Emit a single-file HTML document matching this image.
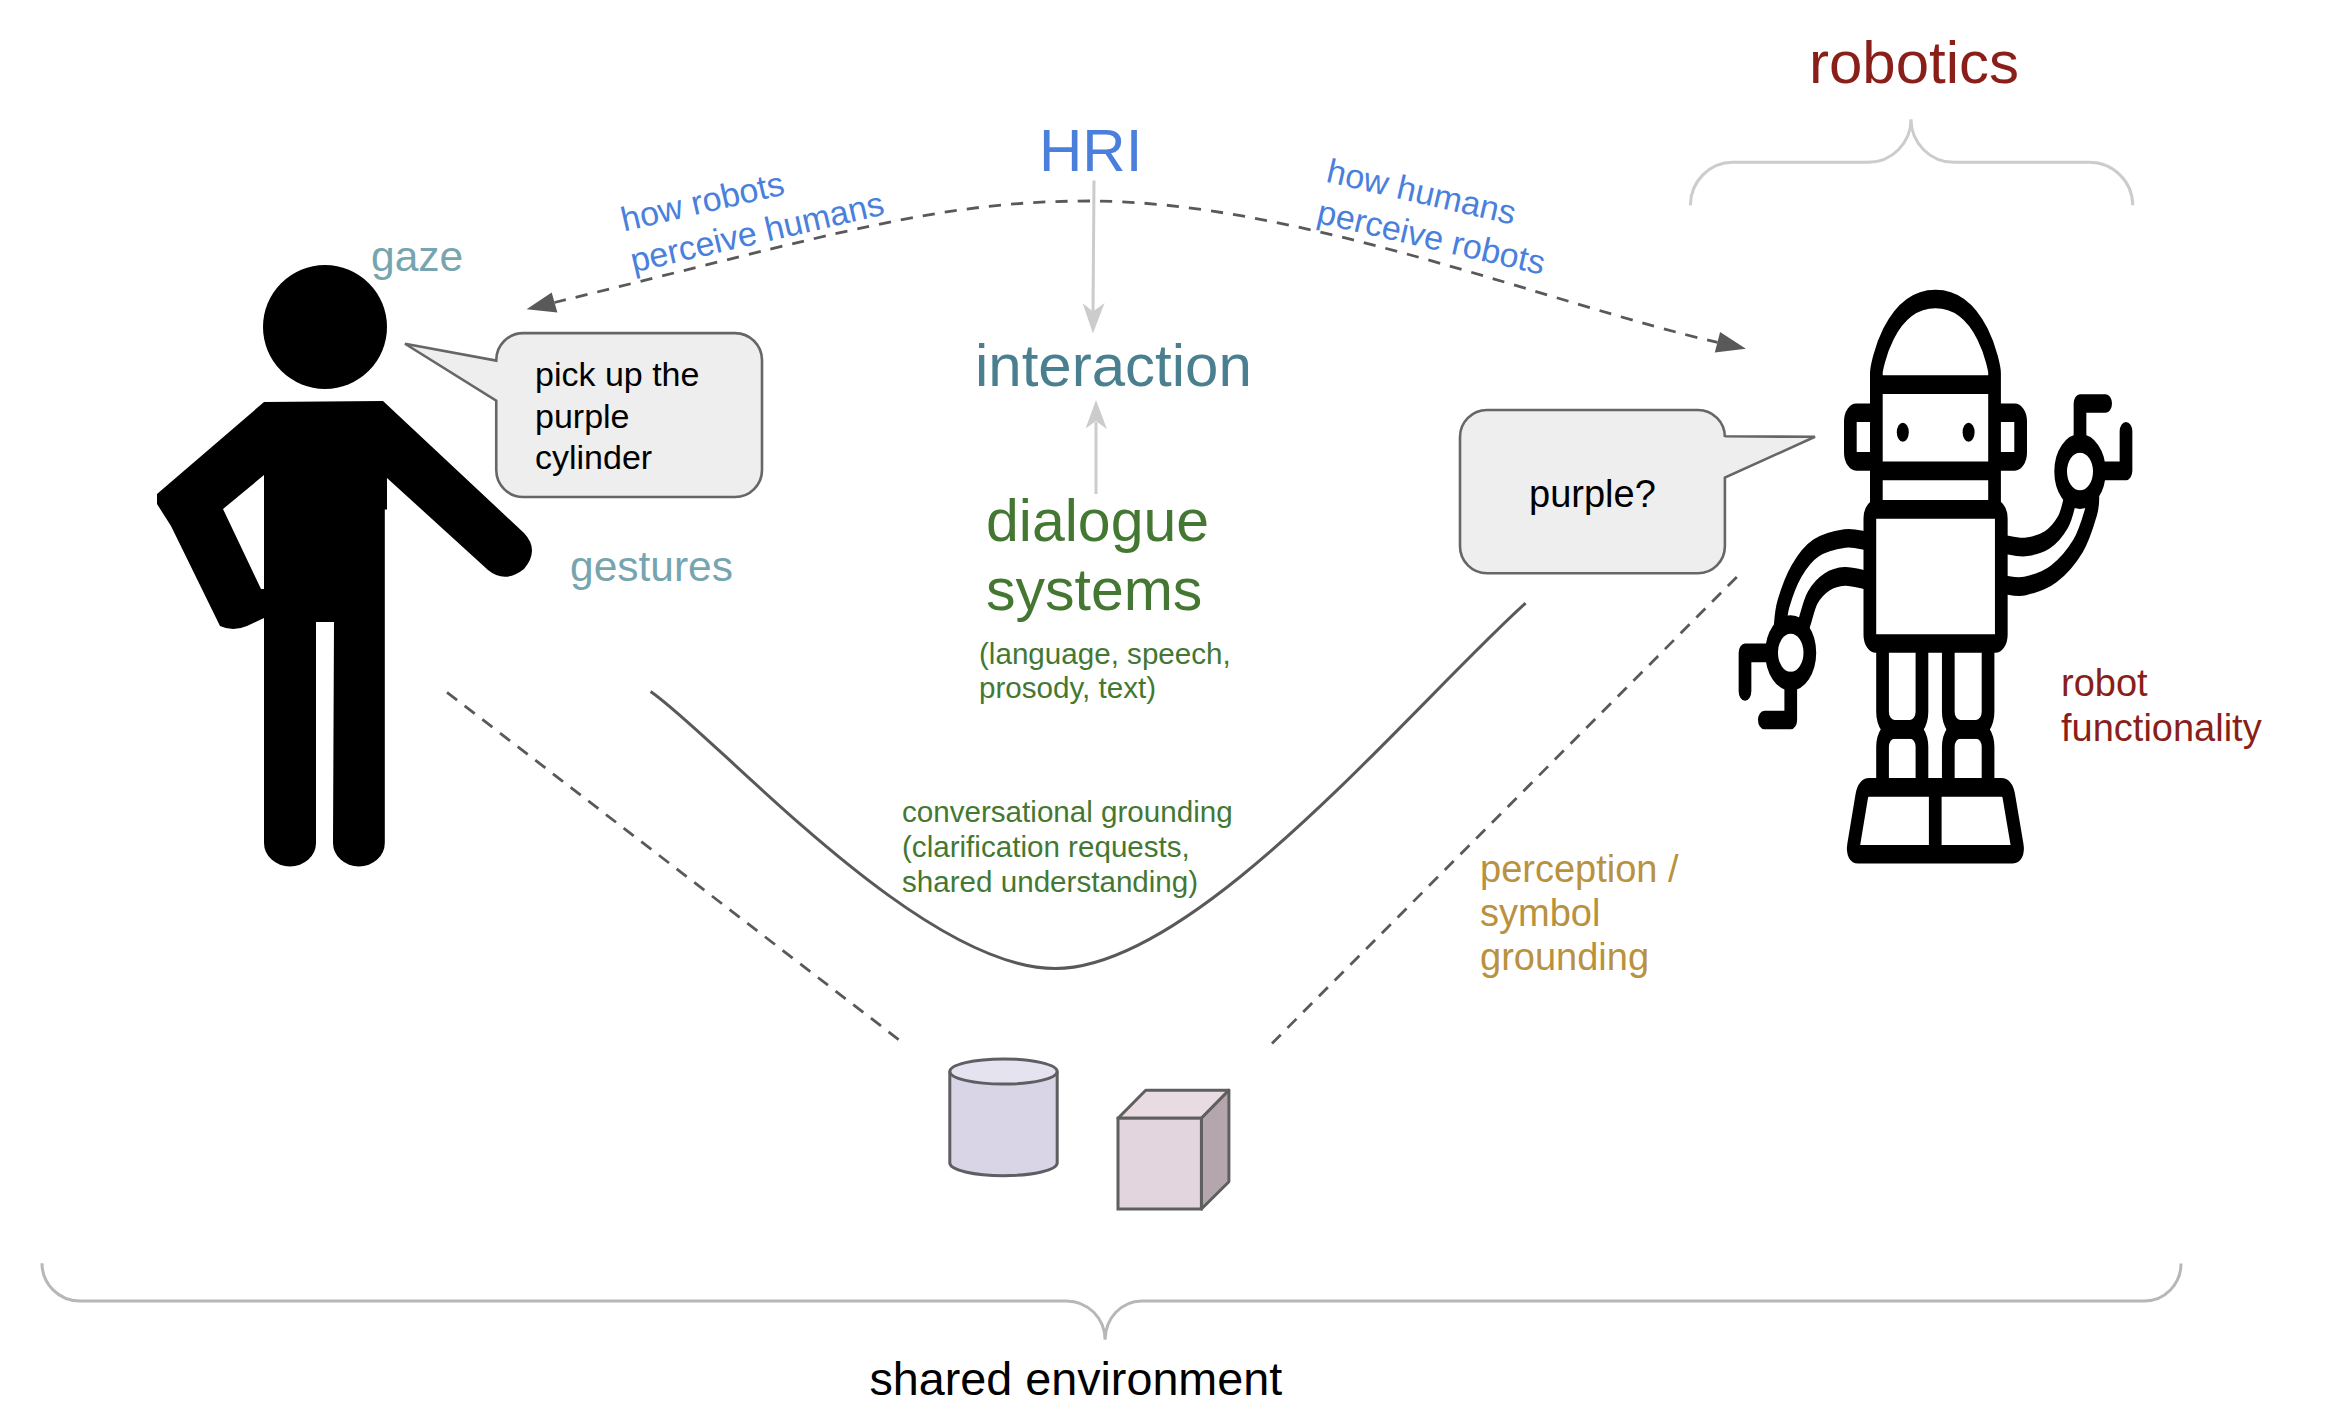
<!DOCTYPE html>
<html><head><meta charset="utf-8">
<style>
html,body{margin:0;padding:0;background:#fff;}
body{width:2352px;height:1418px;overflow:hidden;}
svg{display:block;}
text{font-family:"Liberation Sans",sans-serif;}
</style></head>
<body>
<svg width="2352" height="1418" viewBox="0 0 2352 1418" xmlns="http://www.w3.org/2000/svg">
<rect width="2352" height="1418" fill="#fff"/>
<path d="M1690.4,205.3 A42.5,43 0 0 1 1732.9,162.3 H1868 A43,43 0 0 0 1911,119.3 A43,43 0 0 0 1954,162.3 H2089 A43.7,43 0 0 1 2132.7,205.3" fill="none" stroke="#cccccc" stroke-width="3"/>
<path d="M42,1263.2 A37.6,37.7 0 0 0 79.6,1300.9 H1066.3 A38.8,38.9 0 0 1 1105.1,1339.8 A36.7,38.9 0 0 1 1141.8,1300.9 H2144.7 A36.3,37.4 0 0 0 2181,1263.5" fill="none" stroke="#b7b7b7" stroke-width="3"/>
<path d="M554.5,302.5 C837.7,233.4 938.3,201 1089.2,201 C1299,201 1556,306 1717.5,342.3" fill="none" stroke="#595959" stroke-width="2.8" stroke-dasharray="12.2 10.09" stroke-dashoffset="0.65"/>
<path d="M526.6,309.3 L551.7,292.4 L557.4,312.5 Z" fill="#595959"/>
<path d="M1745.9,348.7 L1720.1,332 L1714.8,352.5 Z" fill="#595959"/>
<path d="M1094,180.6 L1093,314" fill="none" stroke="#cccccc" stroke-width="3"/>
<path d="M1092.9,333.4 L1082.7,303.2 L1092.9,311.5 L1104.6,303 Z" fill="#cccccc"/>
<path d="M1096,494 L1096,422" fill="none" stroke="#cccccc" stroke-width="3"/>
<path d="M1096,400 L1085.6,428.5 L1096,421 L1107,429.2 Z" fill="#cccccc"/>
<path d="M650.6,691.4 C718.0,737.8 919.5,968.5 1055.3,968.5 C1196.6,968.5 1410.6,706.9 1525.6,603.1" fill="none" stroke="#595959" stroke-width="3"/>
<path d="M447,692.3 L898.7,1039.6" fill="none" stroke="#595959" stroke-width="2.8" stroke-dasharray="12.7 9.58"/>
<path d="M1736.8,577 L1272,1043.4" fill="none" stroke="#595959" stroke-width="2.8" stroke-dasharray="12.7 9.58"/>
<g fill="#000">
<circle cx="325" cy="327" r="62"/>
<path fill-rule="evenodd" d="M264,402 L383,401 L524,533 Q540,550 524,569 Q505,584 488,570 L387,478 L387,509.6 L384.8,509.6 L384.8,843 A25.9,23.5 0 0 1 333,843 L334,622 L316,622 L316,843 A26,23.5 0 0 1 264,843 L264,618 L247,626 Q233,632 220,626 L171,526 L157,504 L157,494 Z M264,475 L223,509 L261,589 L264,589 Z"/>
</g>
<path d="M523.25,333.1 H735 A27,27 0 0 1 762,360.1 V470 A27,27 0 0 1 735,497 H523.25 A27,27 0 0 1 496.25,470 V400.6 L405,343.75 L496.25,360.6 V360.1 A27,27 0 0 1 523.25,333.1 Z" fill="#eeeeee" stroke="#666666" stroke-width="2.6" stroke-linejoin="miter"/>
<path d="M1487,410 H1697.9 A27,27 0 0 1 1724.9,437 V436.3 L1815,436.8 L1724.9,477.6 V546.3 A27,27 0 0 1 1697.9,573.3 H1487 A27,27 0 0 1 1460,546.3 V437 A27,27 0 0 1 1487,410 Z" fill="#eeeeee" stroke="#666666" stroke-width="2.6" stroke-linejoin="miter"/>
<g transform="translate(0,289.0) scale(1,1.47)" fill="none" stroke="#000" stroke-width="12.7" stroke-linejoin="round">
<path d="M1876.35,149.66 L1876.35,57.14 C1876.35,53.27 1889.00,6.80 1935.45,6.80 C1981.90,6.80 1994.55,53.27 1994.55,57.14 L1994.55,149.66"/>
<path d="M1876.35,65.03 H1994.55 M1876.35,123.67 H1994.55"/>
<path d="M1876.35,84.18 H1856.35 A6,6 0 0 0 1850.35,90.18 V111.24 A6,6 0 0 0 1856.35,117.24 H1876.35"/>
<path d="M1994.55,84.18 H2014.65 A6,6 0 0 1 2020.65,90.18 V111.24 A6,6 0 0 1 2014.65,117.24 H1994.55"/>
<rect x="1869.85" y="149.93" width="131.45" height="91.22" rx="6" ry="6"/>
<path d="M1882.55,241.16 V287.56 A12,12 0 0 0 1894.55,299.56 H1909.95 A12,12 0 0 0 1921.95,287.56 V241.16"/>
<path d="M1882.55,339.08 V311.56 A12,12 0 0 1 1894.55,299.56 H1909.95 A12,12 0 0 1 1921.95,311.56 V339.08"/>
<path d="M1948.3,241.16 V287.56 A12,12 0 0 0 1960.3,299.56 H1976.05 A12,12 0 0 0 1988.05,287.56 V241.16"/>
<path d="M1948.3,339.08 V311.56 A12,12 0 0 1 1960.3,299.56 H1976.05 A12,12 0 0 1 1988.05,311.56 V339.08"/>
<path d="M1861.78,344.91 Q1863.20,339.08 1869.20,339.08 L2001.35,339.08 Q2007.35,339.08 2008.80,344.90 L2017.25,378.70 Q2018.70,384.52 2012.70,384.52 L1858.10,384.52 Q1852.10,384.52 1853.52,378.70 Z M1935.25,339.08 V384.52"/>
<path d="M1866.00,171.22 C1862.47,170.98 1853.13,168.90 1844.80,169.73 C1836.47,170.56 1824.02,172.54 1816.00,176.19 C1807.98,179.84 1802.13,185.28 1796.70,191.63 C1791.27,197.98 1786.18,207.79 1783.40,214.29 C1780.62,220.78 1780.57,227.89 1780.00,230.61"/>
<path d="M1866.00,197.96 C1862.47,197.55 1851.30,195.28 1844.80,195.51 C1838.30,195.74 1832.33,196.94 1827.00,199.32 C1821.67,201.70 1816.52,205.32 1812.80,209.80 C1809.08,214.27 1806.50,222.49 1804.70,226.19 C1802.90,229.89 1802.45,231.01 1802.00,231.97"/>
<ellipse cx="1790.7" cy="247.48" rx="19.15" ry="19.25"/>
<path stroke-linecap="round" d="M1771.5,247.52 H1745 V273.72"/>
<path stroke-linecap="round" d="M1790.75,266.67 V293.20 H1764.35"/>
<path d="M2005.00,173.81 C2008.33,174.09 2018.00,176.02 2025.00,175.51 C2032.00,175.00 2040.67,173.58 2047.00,170.75 C2053.33,167.91 2059.17,163.04 2063.00,158.50 C2066.83,153.97 2068.83,146.03 2070.00,143.54"/>
<path d="M2005.00,201.29 C2008.33,201.42 2016.90,203.28 2025.00,202.04 C2033.10,200.80 2044.77,198.41 2053.60,193.88 C2062.43,189.34 2071.77,181.86 2078.00,174.83 C2084.23,167.80 2088.50,157.48 2091.00,151.70 C2093.50,145.92 2092.67,142.06 2093.00,140.14"/>
<ellipse cx="2080" cy="124.15" rx="19.35" ry="19.12"/>
<path stroke-linecap="round" d="M2080,105.03 V77.89 H2105.65"/>
<path stroke-linecap="round" d="M2099.35,123.67 H2126 V96.83"/>
</g>
<ellipse cx="1902.8" cy="432.2" rx="6" ry="9.5" fill="#000"/>
<ellipse cx="1968.6" cy="432.2" rx="6" ry="9.5" fill="#000"/>
<path d="M949.8,1071.5 V1163.1 A53.7,12.6 0 0 0 1057.2,1163.1 V1071.5" fill="#d9d4e6" stroke="#5f5f63" stroke-width="3"/>
<ellipse cx="1003.5" cy="1071.5" rx="53.7" ry="12.6" fill="#e5e3f0" stroke="#5f5f63" stroke-width="3"/>
<path d="M1118,1118.2 L1145.7,1090.2 L1228.9,1090.2 L1201.4,1118.2 Z" fill="#e8dbe2" stroke="#5f5f5f" stroke-width="3" stroke-linejoin="round"/>
<path d="M1201.4,1118.2 L1228.9,1090.2 L1228.9,1181.8 L1201.4,1209 Z" fill="#b5a6ae" stroke="#5f5f5f" stroke-width="3" stroke-linejoin="round"/>
<rect x="1118" y="1118.2" width="83.4" height="90.8" fill="#e3d5dd" stroke="#5f5f5f" stroke-width="3"/>
<text x="1809" y="83" font-size="60" fill="#8a1f1a">robotics</text>
<text x="1039" y="171" font-size="60" fill="#4a7fdc">HRI</text>
<text x="975" y="386" font-size="60" fill="#4a7f8f">interaction</text>
<text x="986" y="541" font-size="59" fill="#447832">dialogue</text>
<text x="986" y="610" font-size="59" fill="#447832">systems</text>
<text x="979" y="663.7" font-size="29.6" fill="#447832">(language, speech,</text>
<text x="979" y="698.1" font-size="29.6" fill="#447832">prosody, text)</text>
<text x="371" y="271" font-size="42.5" fill="#76a5af">gaze</text>
<text x="570" y="581" font-size="42.5" fill="#76a5af">gestures</text>
<text x="535" y="385.6" font-size="34" fill="#000">pick up the</text>
<text x="535" y="427.5" font-size="34" fill="#000">purple</text>
<text x="535" y="468.8" font-size="34" fill="#000">cylinder</text>
<text x="1529" y="506.5" font-size="38" fill="#000">purple?</text>
<text x="902" y="822.4" font-size="29.6" fill="#447832">conversational grounding</text>
<text x="902" y="857" font-size="29.6" fill="#447832">(clarification requests,</text>
<text x="902" y="891.8" font-size="29.6" fill="#447832">shared understanding)</text>
<text x="1480" y="881.8" font-size="38" fill="#b8923e">perception /</text>
<text x="1480" y="925.8" font-size="38" fill="#b8923e">symbol</text>
<text x="1480" y="969.9" font-size="38" fill="#b8923e">grounding</text>
<text x="2061" y="696" font-size="38" fill="#8a1f1a">robot</text>
<text x="2061" y="740.6" font-size="38" fill="#8a1f1a">functionality</text>
<text x="869.5" y="1395.3" font-size="46.7" fill="#000">shared environment</text>
<g transform="translate(624,231.5) rotate(-13)" fill="#4a7fdc" font-size="34"><text x="0" y="0">how robots</text><text x="0" y="42">perceive humans</text></g>
<g transform="translate(1325,181.5) rotate(13)" fill="#4a7fdc" font-size="34"><text x="0" y="0">how humans</text><text x="0" y="42">perceive robots</text></g>
</svg>
</body></html>
